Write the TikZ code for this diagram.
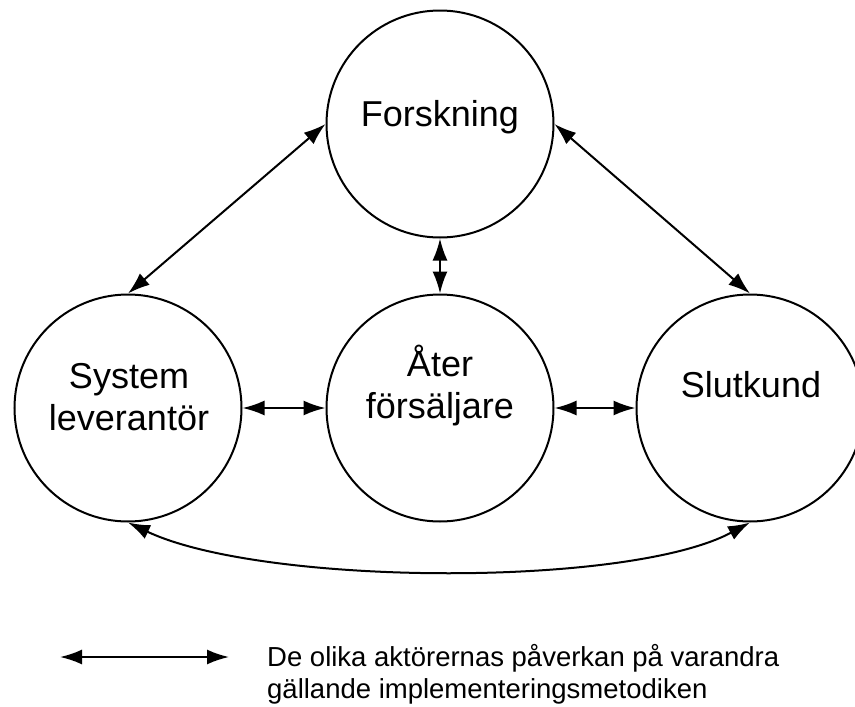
\documentclass[tikz,border=0pt]{standalone}
\usepackage{fontspec}
\setmainfont{Liberation Sans}
\usetikzlibrary{arrows.meta}
\begin{document}
\begin{tikzpicture}[x=1pt,y=-1pt,
  actor/.style={circle,draw=black,line width=2pt,minimum size=227pt,inner sep=0pt},
  lbl/.style={font=\fontsize{36pt}{42pt}\selectfont,anchor=base,inner sep=0pt},
  conn/.style={line width=2pt,{Latex[length=22pt,width=15pt]}-{Latex[length=22pt,width=15pt]}},
  legtext/.style={font=\fontsize{27.5pt}{32pt}\selectfont,anchor=base west,inner sep=0pt}]
\useasboundingbox (0,0) rectangle (855,707);
\node[actor] (F) at (440,124) {};
\node[actor] (L) at (128,408) {};
\node[actor] (M) at (440,408) {};
\node[actor] (R) at (750,408) {};
\node[lbl] (tF) at (440,126) {Forskning};
\node[lbl] (tL1) at (129,388) {System};
\node[lbl] (tL2) at (129,430) {leverantör};
\node[lbl] (tM1) at (440,376) {Åter};
\node[lbl] (tM2) at (440,418) {försäljare};
\node[lbl] (tR) at (751,397) {Slutkund};
\draw[conn] (F.west) -- (L.north);
\draw[conn] (F.east) -- (R.north);
\draw[conn] (F.south) -- (M.north);
\draw[conn] (L.east) -- (M.west);
\draw[conn] (M.east) -- (R.west);
\draw[conn] (L.south) .. controls (262,586) and (628,588) .. (R.south);
\coordinate (a1) at (60,657);
\coordinate (a2) at (229,657);
\draw[conn] (a1) -- (a2);
\node[legtext] (g1) at (267,666) {De olika aktörernas påverkan på varandra};
\node[legtext] (g2) at (267,698) {gällande implementeringsmetodiken};
\end{tikzpicture}
\end{document}
